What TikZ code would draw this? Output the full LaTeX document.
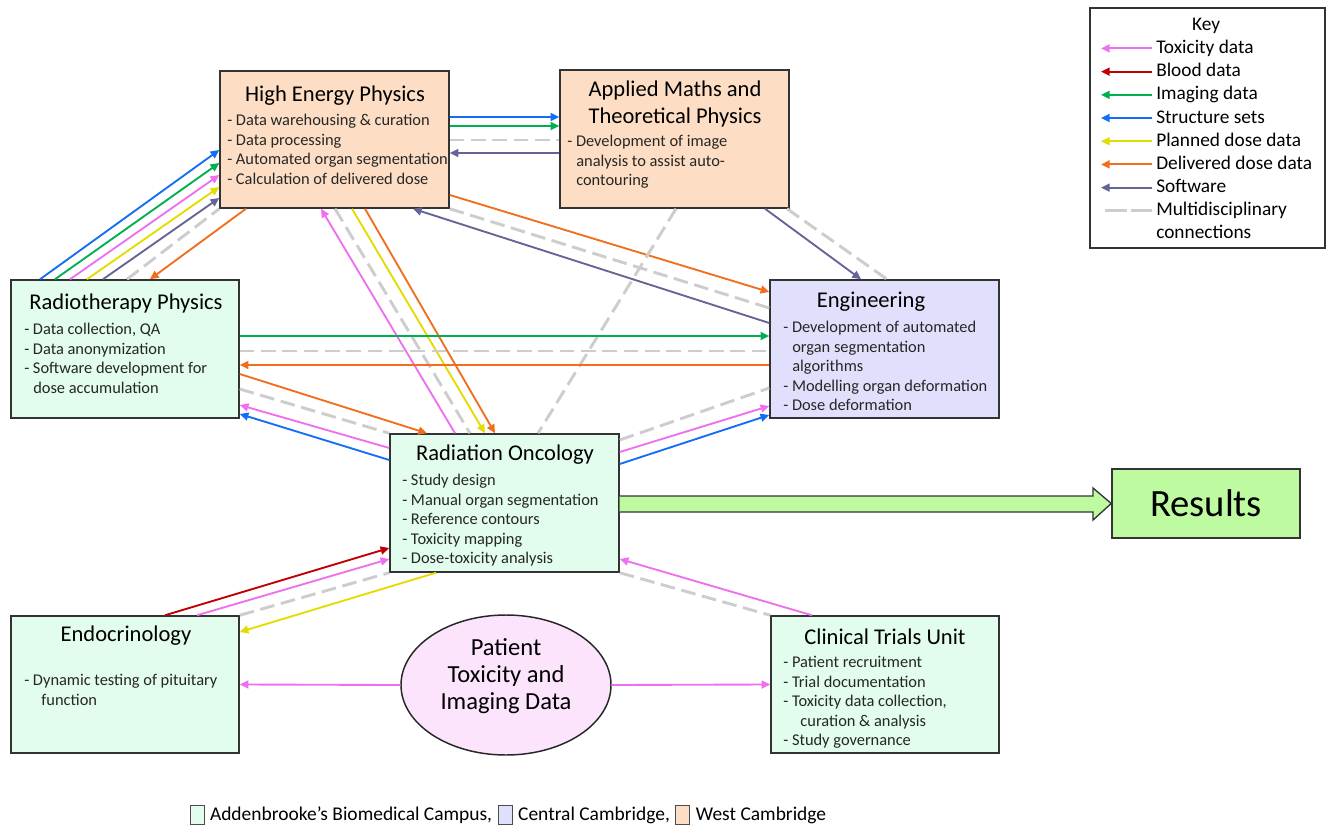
\documentclass[tikz,border=0pt]{standalone}
\usepackage{fontspec}
\setmainfont{Carlito}
\usetikzlibrary{arrows.meta,positioning,fit,shapes.geometric}

\definecolor{toxcol}{RGB}{238,112,238}
\definecolor{bloodcol}{RGB}{192,0,0}
\definecolor{imgcol}{RGB}{0,176,80}
\definecolor{structcol}{RGB}{20,110,245}
\definecolor{plancol}{RGB}{228,220,0}
\definecolor{delivcol}{RGB}{240,110,30}
\definecolor{softcol}{RGB}{100,100,150}
\definecolor{multicol}{RGB}{205,205,205}
\definecolor{addcol}{RGB}{226,252,238}
\definecolor{cencol}{RGB}{224,224,252}
\definecolor{wescol}{RGB}{253,222,196}
\definecolor{patcol}{RGB}{252,228,252}
\definecolor{rescol}{RGB}{190,250,160}

\newcommand{\contin}{\hspace*{0.55em}}
\newcommand{\continw}{\hspace*{1.05em}}

\begin{document}
\begin{tikzpicture}[x=0.75pt,y=-0.75pt,
  area/.style={draw=black!80,line width=1.1pt,inner sep=0pt},
  addb/.style={area,fill=addcol},
  cenb/.style={area,fill=cencol},
  wesb/.style={area,fill=wescol},
  hdr/.style={font=\fontsize{16.9}{20}\selectfont,align=center},
  items/.style={font=\fontsize{12.3}{14.6}\selectfont,align=left,anchor=north west,inner sep=0pt,text=black!85},
  flow/.style={line width=1.4pt,-{Triangle[length=6.5pt,width=6pt]}},
  tox/.style={flow,color=toxcol},
  blood/.style={flow,color=bloodcol},
  img/.style={flow,color=imgcol},
  struct/.style={flow,color=structcol},
  plan/.style={flow,color=plancol},
  deliv/.style={flow,color=delivcol},
  soft/.style={flow,color=softcol},
  multi/.style={line width=2.2pt,color=multicol,dash pattern=on 11pt off 5pt},
  keytxt/.style={anchor=base west,inner sep=0pt,font=\fontsize{14.5}{17}\selectfont},
  swatch/.style={draw=black!70,line width=0.6pt,minimum width=10.5pt,minimum height=14pt,inner sep=0pt},
  legtxt/.style={font=\fontsize{14.6}{17}\selectfont,inner sep=0pt}]
\useasboundingbox (0,0) rectangle (1334,827);

% sites
\node[wesb,fit={(220,71) (449,208)}] (hep) {};
\node[hdr] (hepT) at (335,96) {High Energy Physics};
\node[items] (hepL) at (227,114) {- Data warehousing \& curation\\- Data processing\\- Automated organ segmentation\\- Calculation of delivered dose};

\node[wesb,fit={(560,70) (789,208)}] (amtp) {};
\node[hdr] (amtpT) at (675,104) {Applied Maths and\\Theoretical Physics};
\node[items] (amtpL) at (567,135) {- Development of image\\\contin analysis to assist auto-\\\contin contouring};

\node[addb,fit={(11,280) (239,418)}] (rtp) {};
\node[hdr] (rtpT) at (126,303) {Radiotherapy Physics};
\node[items] (rtpL) at (24,323) {- Data collection, QA\\- Data anonymization\\- Software development for\\\contin dose accumulation};

\node[cenb,fit={(770,280) (999,418)}] (eng) {};
\node[hdr] (engT) at (871,302) {Engineering};
\node[items] (engL) at (783,321) {- Development of automated\\\contin organ segmentation\\\contin algorithms\\- Modelling organ deformation\\- Dose deformation};

\node[addb,fit={(390,434) (619,572)}] (radonc) {};
\node[hdr] (radoncT) at (505,455) {Radiation Oncology};
\node[items] (radoncL) at (402,474) {- Study design\\- Manual organ segmentation\\- Reference contours\\- Toxicity mapping\\- Dose-toxicity analysis};

\node[addb,fit={(11,616) (239,753)}] (endo) {};
\node[hdr] (endoT) at (126,636) {Endocrinology};
\node[items] (endoL) at (24,674) {- Dynamic testing of pituitary\\\continw function};

\node[addb,fit={(771,616) (999,753)}] (ctu) {};
\node[hdr] (ctuT) at (885,637) {Clinical Trials Unit};
\node[items] (ctuL) at (783,656) {- Patient recruitment\\- Trial documentation\\- Toxicity data collection,\\\continw curation \& analysis\\- Study governance};

\node[ellipse,draw=black!85,line width=1.1pt,fill=patcol,minimum width=157.5pt,minimum height=105pt,inner sep=0pt] (pat) at (506,685) {};
\node[align=center,font=\fontsize{18.4}{20.2}\selectfont] (patT) at (506,676) {Patient\\Toxicity and\\Imaging Data};

\node[area,fill=rescol,fit={(1112,469) (1300,538)}] (res) {};
\node[font=\fontsize{29}{32}\selectfont] (resT) at (1206,503) {Results};

% data flows
\draw[struct] (rtp.north -| 40,0) -- (hep.west |- 0,150);
\draw[img] (rtp.north -| 55,0) -- (hep.west |- 0,163);
\draw[tox] (rtp.north -| 70,0) -- (hep.west |- 0,175);
\draw[plan] (rtp.north -| 87,0) -- (hep.west |- 0,187);
\draw[soft] (rtp.north -| 103,0) -- (hep.west |- 0,198);
\draw[multi] (rtp.north -| 127,0) -- (hep.south west);
\draw[deliv] (hep.south -| 246,0) -- (rtp.north -| 150,0);

\draw[struct] (hep.east |- 0,117) -- (amtp.west |- 0,117);
\draw[img] (hep.east |- 0,126) -- (amtp.west |- 0,126);
\draw[multi] (hep.east |- 0,140) -- (amtp.west |- 0,140);
\draw[soft] (amtp.west |- 0,153) -- (hep.east |- 0,153);

\draw[deliv] (hep.east |- 0,195) -- (eng.west |- 0,292);
\draw[multi] (hep.south east) -- (eng.west |- 0,308);
\draw[soft] (eng.west |- 0,323) -- (hep.south -| 413,0);

\draw[soft] (amtp.south -| 765,0) -- (eng.north -| 861,0);
\draw[multi] (amtp.south -| 787,0) -- (eng.north -| 887,0);
\draw[multi] (amtp.south -| 676,0) -- (radonc.north -| 538,0);

\draw[tox] (radonc.north -| 455,0) -- (hep.south -| 321,0);
\draw[multi] (hep.south -| 335,0) -- (radonc.north -| 470,0);
\draw[plan] (hep.south -| 352,0) -- (radonc.north -| 485,0);
\draw[deliv] (hep.south -| 365,0) -- (radonc.north -| 495,0);

\draw[img] (rtp.east |- 0,336) -- (eng.west |- 0,336);
\draw[multi] (rtp.east |- 0,351) -- (eng.west |- 0,351);
\draw[deliv] (eng.west |- 0,365) -- (rtp.east |- 0,365);

\draw[deliv] (rtp.east |- 0,374) -- (radonc.north -| 427,0);
\draw[multi] (rtp.east |- 0,389) -- (radonc.north west);
\draw[tox] (radonc.west |- 0,448) -- (rtp.east |- 0,405);
\draw[struct] (radonc.west |- 0,460) -- (rtp.east |- 0,414);

\draw[multi] (radonc.east |- 0,440) -- (eng.west |- 0,388);
\draw[tox] (radonc.east |- 0,452) -- (eng.west |- 0,406);
\draw[struct] (radonc.east |- 0,464) -- (eng.west |- 0,415);

\draw[blood] (endo.north -| 165,0) -- (radonc.west |- 0,548);
\draw[tox] (endo.north -| 197,0) -- (radonc.west |- 0,559);
\draw[multi] (endo.north east) -- (radonc.south west);
\draw[plan] (radonc.south -| 436,0) -- (endo.east |- 0,632);

\draw[tox] (ctu.north -| 812,0) -- (radonc.east |- 0,559);
\draw[multi] (radonc.south east) -- (ctu.north west);

\draw[tox] (pat.west) -- (endo.east);
\draw[tox] (pat.east) -- (ctu.west);

\draw[draw=black!80,line width=1pt,fill=rescol] (radonc.east |- 0,496) -- (1093,496) -- (1093,488) -- (res.west) -- (1093,520) -- (1093,512) -- (radonc.east |- 0,512);

% key
\node[area,fill=white,fit={(1090,8) (1325,248)}] (key) {};
\node[font=\fontsize{14.5}{17}\selectfont] (keyT) at (1206,26) {Key};
\foreach \sty/\txt [count=\i] in {tox/Toxicity data,blood/Blood data,img/Imaging data,struct/Structure sets,plan/Planned dose data,deliv/Delivered dose data,soft/Software}{
  \node[keytxt] (key\i) at (1156,{53.5+23.2*(\i-1)}) {\txt};
  \draw[\sty] ([shift={(-3pt,3.8pt)}]key\i.base west) -- ++(-51,0);
}
\node[keytxt] (key8) at (1156,215.5) {Multidisciplinary};
\node[keytxt] (key9) at (1156,238.5) {connections};
\draw[multi,dash pattern=on 16pt off 3pt] ([shift={(-3pt,3.8pt)}]key8.base west) -- ++(-49,0);

% sites legend
\node[swatch,fill=addcol] (sw1) at (197,815) {};
\node[legtxt,right=4pt of sw1] (lg1) {Addenbrooke’s Biomedical Campus,};
\node[swatch,fill=cencol,right=4pt of lg1] (sw2) {};
\node[legtxt,right=4pt of sw2] (lg2) {Central Cambridge,};
\node[swatch,fill=wescol,right=4pt of lg2] (sw3) {};
\node[legtxt,right=4pt of sw3] (lg3) {West Cambridge};
\end{tikzpicture}
\end{document}
